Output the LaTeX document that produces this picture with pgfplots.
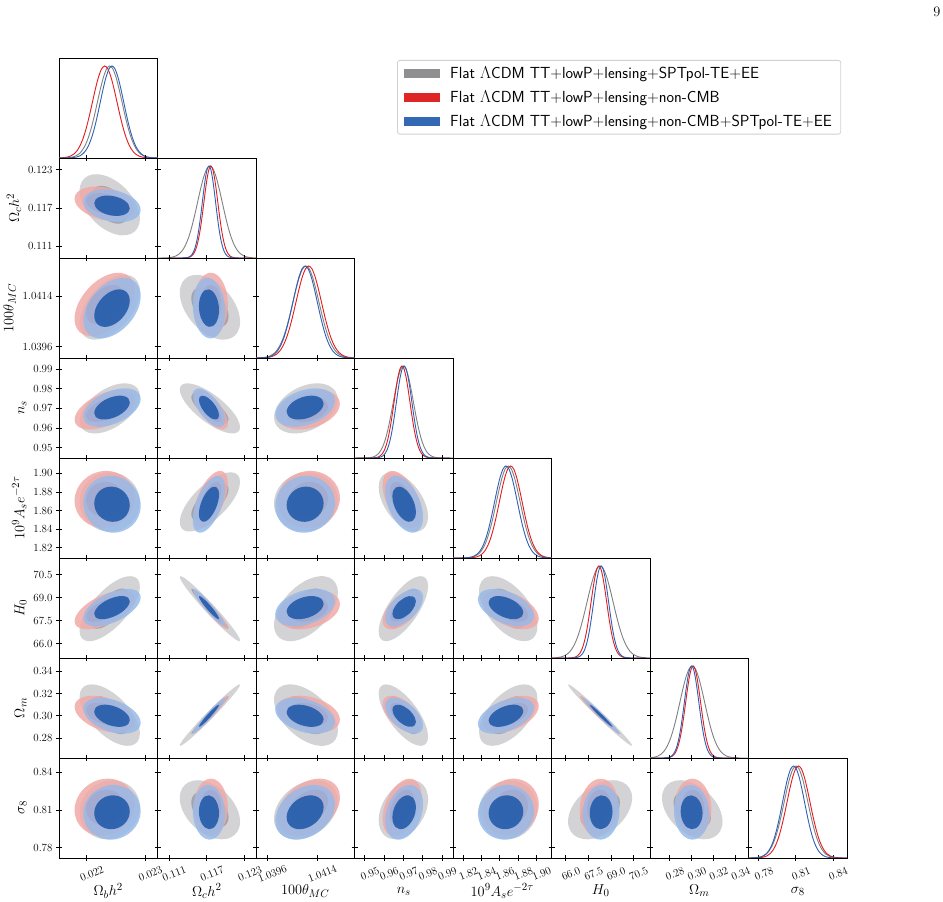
\documentclass[border=0pt]{standalone}
\usepackage{pgfplots}
\pgfplotsset{compat=1.18}
\usepackage{pgfplotstable}

\definecolor{g95}{RGB}{211,211,213}
\definecolor{g68}{RGB}{165,165,167}
\definecolor{r95}{RGB}{240,170,168}
\definecolor{r68}{RGB}{222,80,80}
\definecolor{b95}{RGB}{152,186,232}
\definecolor{b68}{RGB}{42,96,172}
\definecolor{lg}{RGB}{143,143,145}
\definecolor{lr}{RGB}{223,38,38}
\definecolor{lb}{RGB}{51,104,180}
\definecolor{cg}{RGB}{128,128,128}
\definecolor{cr}{RGB}{228,26,28}
\definecolor{cb}{RGB}{44,96,180}

% standard normal profile (k = offset in sigma, d = relative density)
\pgfplotstableread{
k d
-6 0
-4 0.000335
-3.75 0.000884
-3.5 0.002187
-3.25 0.005086
-3 0.011109
-2.75 0.022794
-2.5 0.043937
-2.25 0.079560
-2 0.135335
-1.75 0.216265
-1.5 0.324652
-1.25 0.457833
-1 0.606531
-0.75 0.754840
-0.5 0.882497
-0.25 0.969233
0 1
0.25 0.969233
0.5 0.882497
0.75 0.754840
1 0.606531
1.25 0.457833
1.5 0.324652
1.75 0.216265
2 0.135335
2.25 0.079560
2.5 0.043937
2.75 0.022794
3 0.011109
3.25 0.005086
3.5 0.002187
3.75 0.000884
4 0.000335
6 0
}\gausstab

% parameter index, means (G,R,B), sigmas (G,R,B)
\newcommand\defvar[7]{%
 \expandafter\def\csname mG#1\endcsname{#2}%
 \expandafter\def\csname mR#1\endcsname{#3}%
 \expandafter\def\csname mB#1\endcsname{#4}%
 \expandafter\def\csname sG#1\endcsname{#5}%
 \expandafter\def\csname sR#1\endcsname{#6}%
 \expandafter\def\csname sB#1\endcsname{#7}}
\defvar{0}{0.022395}{0.02231}{0.022434}{0.00021}{0.00021}{0.00020}
\defvar{1}{0.11750}{0.11765}{0.11735}{0.00195}{0.00110}{0.00105}
\defvar{2}{1.04100}{1.04110}{1.04097}{0.00047}{0.00046}{0.00044}
\defvar{3}{0.9700}{0.9693}{0.9704}{0.0052}{0.0041}{0.0040}
\defvar{4}{1.8693}{1.8720}{1.8668}{0.0130}{0.0125}{0.0125}
\defvar{5}{68.28}{68.20}{68.35}{0.87}{0.52}{0.50}
\defvar{6}{0.3006}{0.3014}{0.3000}{0.0113}{0.0068}{0.0066}
\defvar{7}{0.8102}{0.8122}{0.8082}{0.0096}{0.0093}{0.0089}

% filled contour: color, opacity, mx, my, sx, sy, rho, k
\newcommand\contraw[8]{\pgfplotsextra{%
  \begingroup
   \pgfkeys{/pgf/fpu=true,/pgf/fpu/output format=fixed}%
   \pgfmathparse{#8*(#5)}\xdef\cax{\pgfmathresult}%
   \pgfmathparse{#8*(#7)*(#6)}\xdef\cay{\pgfmathresult}%
   \pgfmathparse{#8*(#6)*sqrt(1-(#7)*(#7))}\xdef\cby{\pgfmathresult}%
  \endgroup
  \begin{pgfscope}%
   \pgfpathellipse{\pgfplotspointaxisxy{#3}{#4}}{\pgfplotspointaxisdirectionxy{\cax}{\cay}}{\pgfplotspointaxisdirectionxy{0}{\cby}}%
   \pgfsetfillcolor{#1}\pgfsetfillopacity{#2}%
   \pgfusepath{fill}%
  \end{pgfscope}}}
\newcommand\cont[7]{\edef\ctmp{\noexpand\contraw{#1}{#2}{\csname m#3#4\endcsname}{\csname m#3#5\endcsname}{\csname s#3#4\endcsname}{\csname s#3#5\endcsname}{#6}{#7}}\ctmp}
\newcommand\twod[5]{%
 \cont{g95}{1}{G}{#1}{#2}{#3}{2.448}%
 \cont{g68}{1}{G}{#1}{#2}{#3}{1.515}%
 \cont{r95}{0.85}{R}{#1}{#2}{#4}{2.448}%
 \cont{r68}{0.85}{R}{#1}{#2}{#4}{1.515}%
 \cont{b95}{0.85}{B}{#1}{#2}{#5}{2.448}%
 \cont{b68}{0.95}{B}{#1}{#2}{#5}{1.515}}
\newcommand\dcurve[3]{\edef\ctmp{\noexpand\addplot[#1, line width=0.9bp, smooth, forget plot] table[x expr={\csname m#2#3\endcsname+\noexpand\thisrow{k}*\csname s#2#3\endcsname}, y=d]{\noexpand\gausstab};}\ctmp}

\pgfplotsset{
 panel/.style={scale only axis, width=98.5bp, height=100bp, anchor=south west,
   tick align=center, major tick length=6bp,
   every tick/.style={black, line width=0.6bp},
   axis line style={line width=0.8bp},
   scaled ticks=false, xticklabels={}, yticklabels={},
   tick label style={font=\fontsize{11}{13}\selectfont},
   label style={font=\fontsize{15}{18}\selectfont},
   xticklabel style={rotate=22, anchor=center, yshift=-14bp},
   xlabel style={at={(axis description cs:0.5,0)}, anchor=center, yshift=-33bp}},
 dg/.style={ymin=0, ymax=1.087, ytick=\empty, xtick pos=left},
 xv0/.style={xmin=0.02153, xmax=0.02321, xtick={0.022,0.023}},
 xv1/.style={xmin=0.1092, xmax=0.1248, xtick={0.111,0.117,0.123}},
 xv2/.style={xmin=1.0392, xmax=1.04275, xtick={1.0396,1.0414}},
 xv3/.style={xmin=0.9448, xmax=0.9956, xtick={0.95,0.96,0.97,0.98,0.99}},
 xv4/.style={xmin=1.809, xmax=1.9165, xtick={1.82,1.84,1.86,1.88,1.90}},
 xv5/.style={xmin=65.05, xmax=71.6, xtick={66,67.5,69,70.5}},
 xv6/.style={xmin=0.262, xmax=0.352, xtick={0.28,0.30,0.32,0.34}},
 xv7/.style={xmin=0.7718, xmax=0.8514, xtick={0.78,0.81,0.84}},
 yv1/.style={ymin=0.1092, ymax=0.1248, ytick={0.111,0.117,0.123}},
 yv2/.style={ymin=1.0392, ymax=1.04275, ytick={1.0396,1.0414}},
 yv3/.style={ymin=0.9448, ymax=0.9956, ytick={0.95,0.96,0.97,0.98,0.99}},
 yv4/.style={ymin=1.809, ymax=1.9165, ytick={1.82,1.84,1.86,1.88,1.90}},
 yv5/.style={ymin=65.05, ymax=71.6, ytick={66,67.5,69,70.5}},
 yv6/.style={ymin=0.262, ymax=0.352, ytick={0.28,0.30,0.32,0.34}},
 yv7/.style={ymin=0.7718, ymax=0.8514, ytick={0.78,0.81,0.84}},
 xl0/.style={xticklabels={0.022,0.023}, xlabel={$\Omega_bh^2$}},
 xl1/.style={xticklabels={0.111,0.117,0.123}, xlabel={$\Omega_ch^2$}},
 xl2/.style={xticklabels={1.0396,1.0414}, xlabel={$100\theta_{MC}$}},
 xl3/.style={xticklabels={0.95,0.96,0.97,0.98,0.99}, xlabel={$n_s$}},
 xl4/.style={xticklabels={1.82,1.84,1.86,1.88,1.90}, xlabel={$10^9A_se^{-2\tau}$}},
 xl5/.style={xticklabels={66.0,67.5,69.0,70.5}, xlabel={$H_0$}},
 xl6/.style={xticklabels={0.28,0.30,0.32,0.34}, xlabel={$\Omega_m$}},
 xl7/.style={xticklabels={0.78,0.81,0.84}, xlabel={$\sigma_8$}},
 yl1/.style={yticklabels={0.111,0.117,0.123}, ylabel={$\Omega_ch^2$}},
 yl2/.style={yticklabels={1.0396,1.0414}, ylabel={$100\theta_{MC}$}},
 yl3/.style={yticklabels={0.95,0.96,0.97,0.98,0.99}, ylabel={$n_s$}},
 yl4/.style={yticklabels={1.82,1.84,1.86,1.88,1.90}, ylabel={$10^9A_se^{-2\tau}$}},
 yl5/.style={yticklabels={66.0,67.5,69.0,70.5}, ylabel={$H_0$}},
 yl6/.style={yticklabels={0.28,0.30,0.32,0.34}, ylabel={$\Omega_m$}},
 yl7/.style={yticklabels={0.78,0.81,0.84}, ylabel={$\sigma_8$}},
}

% off-diagonal panel: row (y var), col (x var), extra style, rho gray, rho red, rho blue
\newcommand\offpanel[6]{%
 \begin{axis}[panel, xv#2, yv#1, #3, at={({59bp+98.5bp*#2},{744bp-100bp*#1})}]
  \twod{#2}{#1}{#4}{#5}{#6}
 \end{axis}}
\newcommand\diagpanel[2]{%
 \begin{axis}[panel, xv#1, dg, #2, at={({59bp+98.5bp*#1},{744bp-100bp*#1})}]
  \dcurve{cg}{G}{#1}\dcurve{cr}{R}{#1}\dcurve{cb}{B}{#1}
 \end{axis}}

\begin{document}
\begin{tikzpicture}[x=1bp,y=1bp]
\useasboundingbox (0,0) rectangle (943,902);
\node[font=\fontsize{14.4}{16}\selectfont, inner sep=0] at (937,890) {9};

\begin{axis}[panel, xv0, dg, at={(59bp,744bp)},
  legend style={at={(axis description cs:3.4315,0.98)}, anchor=north west,
    draw=black!18, line width=0.8bp, rounded corners=2.5bp,
    font=\sffamily\fontsize{16.1}{18}\selectfont,
    inner xsep=7bp, inner ysep=4bp, row sep=7bp, cells={anchor=west},
    /tikz/every odd column/.append style={column sep=8bp}},
  legend cell align=left,
  legend image code/.code={\fill[#1, sharp corners] (0bp,-4bp) rectangle (35bp,4bp);}]
 \dcurve{cg}{G}{0}\dcurve{cr}{R}{0}\dcurve{cb}{B}{0}
 \addlegendimage{lg}\addlegendentry{Flat $\Lambda$CDM TT+lowP+lensing+SPTpol-TE+EE}
 \addlegendimage{lr}\addlegendentry{Flat $\Lambda$CDM TT+lowP+lensing+non-CMB}
 \addlegendimage{lb}\addlegendentry{Flat $\Lambda$CDM TT+lowP+lensing+non-CMB+SPTpol-TE+EE}
\end{axis}

\offpanel{1}{0}{yl1}{-0.45}{-0.30}{-0.25}
\diagpanel{1}{}

\offpanel{2}{0}{yl2}{0.50}{0.45}{0.40}
\offpanel{2}{1}{}{-0.45}{0.0}{-0.10}
\diagpanel{2}{}

\offpanel{3}{0}{yl3}{0.50}{0.50}{0.45}
\offpanel{3}{1}{}{-0.75}{-0.68}{-0.65}
\offpanel{3}{2}{}{0.35}{0.30}{0.35}
\diagpanel{3}{}

\offpanel{4}{0}{yl4}{0.0}{0.05}{-0.05}
\offpanel{4}{1}{}{0.68}{0.55}{0.55}
\offpanel{4}{2}{}{0.05}{0.05}{0.05}
\offpanel{4}{3}{}{-0.50}{-0.50}{-0.45}
\diagpanel{4}{}

\offpanel{5}{0}{yl5}{0.68}{0.58}{0.55}
\offpanel{5}{1}{}{-0.975}{-0.95}{-0.95}
\offpanel{5}{2}{}{0.50}{0.30}{0.35}
\offpanel{5}{3}{}{0.70}{0.55}{0.55}
\offpanel{5}{4}{}{-0.55}{-0.45}{-0.45}
\diagpanel{5}{}

\offpanel{6}{0}{yl6}{-0.60}{-0.40}{-0.40}
\offpanel{6}{1}{}{0.985}{0.97}{0.97}
\offpanel{6}{2}{}{-0.50}{-0.30}{-0.35}
\offpanel{6}{3}{}{-0.70}{-0.55}{-0.55}
\offpanel{6}{4}{}{0.55}{0.45}{0.45}
\offpanel{6}{5}{}{-0.99}{-0.985}{-0.985}
\diagpanel{6}{}

\offpanel{7}{0}{yl7,xl0}{0.10}{0.10}{0.05}
\offpanel{7}{1}{xl1}{-0.40}{0.0}{-0.05}
\offpanel{7}{2}{xl2}{0.30}{0.35}{0.30}
\offpanel{7}{3}{xl3}{0.35}{0.40}{0.30}
\offpanel{7}{4}{xl4}{0.05}{0.10}{0.05}
\offpanel{7}{5}{xl5}{0.40}{0.10}{0.05}
\offpanel{7}{6}{xl6}{-0.40}{-0.05}{-0.05}
\diagpanel{7}{xl7}
\end{tikzpicture}
\end{document}
